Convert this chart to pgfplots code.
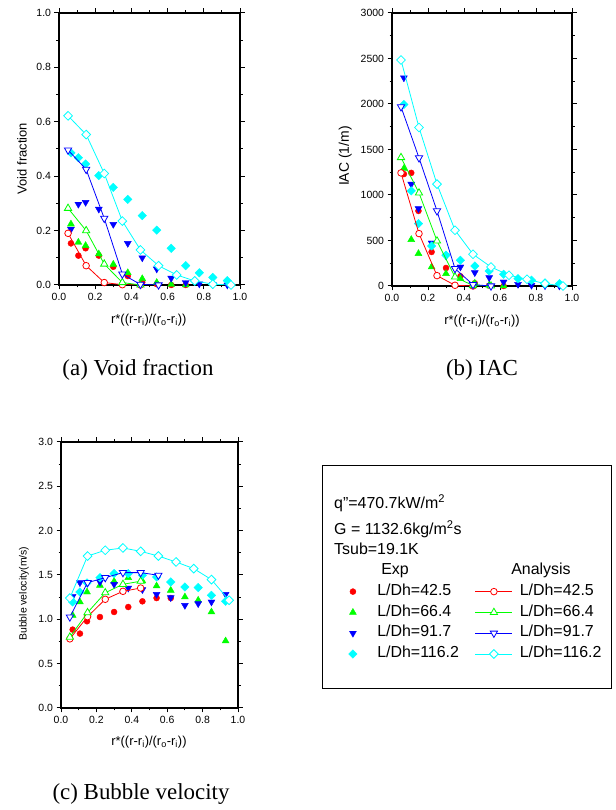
\documentclass[border=0pt]{standalone}
\usepackage{fontspec}
\setmainfont{Liberation Sans}
\newfontfamily\capfont{Liberation Serif}
\usepackage{pgfplots}
\pgfplotsset{compat=1.18}

\definecolor{cRed}{RGB}{255,0,0}
\definecolor{cGreen}{RGB}{0,255,0}
\definecolor{cBlue}{RGB}{0,0,255}
\definecolor{cCyan}{RGB}{0,255,255}

\pgfplotsset{
  panel/.style={
    scale only axis,
    xmin=0, xmax=1, xtick={0,0.2,0.4,0.6,0.8,1},
    minor x tick num=1, minor y tick num=1,
    tick align=outside, major tick length=4.5bp, minor tick length=2.5bp,
    axis line style={line width=1.3bp},
    every tick/.style={black, line width=1bp},
    tick label style={font=\fontsize{10.5}{12}\selectfont},
    /pgf/number format/assume math mode=true,
    /pgf/number format/1000 sep={},
    xticklabel style={/pgf/number format/.cd, fixed, fixed zerofill, precision=1},
    xlabel={r*((r-r\textsubscript{i})/(r\textsubscript{o}-r\textsubscript{i}))},
    xlabel style={font=\fontsize{13}{15}\selectfont, anchor=center},
    ylabel style={anchor=center},
    clip mode=individual,
  },
  e42/.style={only marks, color=cRed, mark=*, mark size=3bp},
  e66/.style={only marks, color=cGreen, mark=triangle*, mark size=4bp},
  e91/.style={only marks, color=cBlue, mark=triangle*, mark size=4bp, mark options={rotate=180}},
  e116/.style={only marks, color=cCyan, mark=square*, mark size=3bp, mark options={rotate=45}},
  a42/.style={color=cRed, line width=0.8bp, mark=*, mark size=3.3bp, mark options={fill=white}},
  a66/.style={color=cGreen, line width=0.8bp, mark=triangle*, mark size=4.2bp, mark options={fill=white}},
  a91/.style={color=cBlue, line width=0.8bp, mark=triangle*, mark size=4.2bp, mark options={rotate=180, fill=white}},
  a116/.style={color=cCyan, line width=0.8bp, mark=square*, mark size=3.1bp, mark options={rotate=45, fill=white}},
  legexp/.style={legend image code/.code={\path (0bp,0bp) (17bp,0bp); \draw[##1] plot coordinates {(8.5bp,0bp)};}},
  legana/.style={legend image code/.code={\path (0bp,0bp) (37bp,0bp); \draw[mark repeat=2, mark phase=2, ##1] plot coordinates {(0bp,0bp) (18.5bp,0bp) (37bp,0bp)};}},
}

\begin{document}
\begin{tikzpicture}
\useasboundingbox (0,0) rectangle (616bp,810bp);

% (a) void fraction
\begin{axis}[panel, at={(59bp,525bp)}, anchor=south west,
  width=181bp, height=272bp,
  ymin=0, ymax=1, ytick={0,0.2,0.4,0.6,0.8,1},
  yticklabel style={/pgf/number format/.cd, fixed, fixed zerofill, precision=1},
  ylabel={Void fraction},
  ylabel style={font=\fontsize{13}{15}\selectfont, at={(axis description cs:-0.204,0.465)}},
  xlabel style={at={(axis description cs:0.496,-0.129)}}]
\addplot[e42] coordinates {(0.066,0.153)(0.107,0.108)(0.147,0.135)(0.22,0.108)(0.30,0.067)(0.38,0.033)(0.46,0.01)(0.54,0.003)(0.62,0)(0.70,0)};
\addplot[e66] coordinates {(0.066,0.224)(0.107,0.157)(0.147,0.145)(0.22,0.114)(0.30,0.076)(0.38,0.045)(0.46,0.023)(0.54,0.009)(0.62,0.002)(0.70,0)};
\addplot[e91] coordinates {(0.066,0.205)(0.107,0.297)(0.147,0.304)(0.22,0.279)(0.30,0.223)(0.38,0.153)(0.46,0.10)(0.54,0.059)(0.62,0.025)(0.70,0.009)(0.775,0.004)(0.85,0.002)(0.93,0)};
\addplot[e116] coordinates {(0.066,0.486)(0.107,0.468)(0.147,0.445)(0.22,0.402)(0.30,0.359)(0.38,0.315)(0.46,0.255)(0.54,0.202)(0.62,0.135)(0.70,0.071)(0.775,0.045)(0.85,0.028)(0.93,0.016)};
\addplot[a42] coordinates {(0.05,0.19)(0.15,0.071)(0.25,0.009)(0.35,0.001)(0.45,0)};
\addplot[a66] coordinates {(0.05,0.282)(0.15,0.20)(0.25,0.077)(0.35,0.009)(0.45,0)};
\addplot[a91] coordinates {(0.05,0.496)(0.15,0.425)(0.25,0.245)(0.35,0.04)(0.45,0.002)(0.55,0)};
\addplot[a116] coordinates {(0.05,0.622)(0.15,0.553)(0.25,0.41)(0.35,0.235)(0.45,0.129)(0.55,0.071)(0.65,0.037)(0.75,0.015)(0.85,0.003)(0.95,0)};
\end{axis}

% (b) IAC
\begin{axis}[panel, at={(392bp,524bp)}, anchor=south west,
  width=180bp, height=273bp,
  ymin=0, ymax=3000, ytick={0,500,1000,1500,2000,2500,3000}, scaled y ticks=false,
  ylabel={IAC (1/m)},
  ylabel style={font=\fontsize{14}{16}\selectfont, at={(axis description cs:-0.26,0.476)}},
  xlabel style={at={(axis description cs:0.5,-0.128)}}]
\addplot[e42] coordinates {(0.066,1230)(0.107,1243)(0.147,825)(0.22,374)(0.30,198)(0.38,107)(0.46,30)(0.54,5)(0.62,0)};
\addplot[e66] coordinates {(0.066,1291)(0.107,510)(0.147,356)(0.22,209)(0.30,136)(0.38,81)(0.46,30)(0.54,10)(0.62,0)};
\addplot[e91] coordinates {(0.066,2288)(0.107,1119)(0.147,851)(0.22,473)(0.30,330)(0.38,209)(0.46,147)(0.54,92)(0.62,44)(0.70,19)(0.775,8)(0.85,3)(0.93,0)};
\addplot[e116] coordinates {(0.066,1995)(0.107,1045)(0.147,686)(0.22,440)(0.30,338)(0.38,283)(0.46,220)(0.54,165)(0.62,129)(0.70,81)(0.775,63)(0.85,33)(0.93,26)};
\addplot[a42] coordinates {(0.05,1243)(0.15,576)(0.25,114)(0.35,8)(0.45,0)};
\addplot[a66] coordinates {(0.05,1412)(0.15,1023)(0.25,495)(0.35,99)(0.45,5)(0.55,0)};
\addplot[a91] coordinates {(0.05,1969)(0.15,1408)(0.25,825)(0.35,191)(0.45,15)(0.55,0)};
\addplot[a116] coordinates {(0.05,2483)(0.15,1742)(0.25,1119)(0.35,613)(0.45,349)(0.55,209)(0.65,118)(0.75,74)(0.85,26)(0.95,0)};
\end{axis}

% (c) bubble velocity
\begin{axis}[panel, at={(61bp,102bp)}, anchor=south west,
  width=177bp, height=266bp,
  ymin=0, ymax=3, ytick={0,0.5,1,1.5,2,2.5,3},
  yticklabel style={/pgf/number format/.cd, fixed, fixed zerofill, precision=1},
  ylabel={Bubble velocity(m/s)},
  ylabel style={font=\fontsize{10.5}{12}\selectfont, at={(axis description cs:-0.209,0.43)}},
  xlabel style={at={(axis description cs:0.497,-0.128)}},
  legend columns=2,
  legend style={at={(1.599,0.4774)}, anchor=north west, draw=none, fill=none,
    inner sep=0pt, font=\fontsize{16}{19}\selectfont,
    nodes={inner sep=0pt, text height=14bp, text depth=6.8bp},
    row sep=0pt,
    /tikz/column 1/.style={column sep=15.7bp},
    /tikz/column 2/.style={column sep=16bp},
    /tikz/column 3/.style={column sep=7bp}},
  legend cell align=left]
\addplot[e42, forget plot] coordinates {(0.066,0.884)(0.107,0.839)(0.147,0.978)(0.22,1.026)(0.30,1.083)(0.38,1.139)(0.46,1.203)(0.54,1.24)(0.62,1.24)};
\addplot[e66, forget plot] coordinates {(0.066,1.045)(0.107,1.196)(0.147,1.308)(0.22,1.383)(0.30,1.428)(0.38,1.47)(0.46,1.432)(0.54,1.376)(0.62,1.327)(0.70,1.252)(0.775,1.215)(0.85,1.083)(0.93,0.756)};
\addplot[e91, forget plot] coordinates {(0.066,1.26)(0.107,1.414)(0.147,1.414)(0.22,1.421)(0.30,1.395)(0.38,1.353)(0.46,1.335)(0.54,1.282)(0.62,1.245)(0.70,1.158)(0.775,1.177)(0.85,1.196)(0.93,1.282)};
\addplot[e116, forget plot] coordinates {(0.066,1.196)(0.107,1.308)(0.147,1.41)(0.22,1.47)(0.30,1.516)(0.38,1.516)(0.46,1.497)(0.54,1.478)(0.62,1.421)(0.70,1.365)(0.775,1.358)(0.85,1.271)(0.93,1.203)};
\addplot[a42, forget plot] coordinates {(0.05,0.78)(0.15,1.03)(0.25,1.226)(0.35,1.316)(0.45,1.353)};
\addplot[a66, forget plot] coordinates {(0.05,0.80)(0.15,1.076)(0.25,1.30)(0.35,1.395)(0.45,1.43)};
\addplot[a91, forget plot] coordinates {(0.05,1.026)(0.15,1.414)(0.25,1.47)(0.35,1.527)(0.45,1.527)(0.55,1.497)};
\addplot[a116, forget plot] coordinates {(0.05,1.24)(0.15,1.714)(0.25,1.779)(0.35,1.805)(0.45,1.767)(0.55,1.714)(0.65,1.647)(0.75,1.572)(0.85,1.448)(0.95,1.215)};
\addlegendimage{e42, legexp}\addlegendentry{L/Dh=42.5}
\addlegendimage{a42, legana}\addlegendentry{L/Dh=42.5}
\addlegendimage{e66, legexp}\addlegendentry{L/Dh=66.4}
\addlegendimage{a66, legana}\addlegendentry{L/Dh=66.4}
\addlegendimage{e91, legexp}\addlegendentry{L/Dh=91.7}
\addlegendimage{a91, legana}\addlegendentry{L/Dh=91.7}
\addlegendimage{e116, legexp}\addlegendentry{L/Dh=116.2}
\addlegendimage{a116, legana}\addlegendentry{L/Dh=116.2}
\end{axis}

% legend box and texts
\draw[line width=0.8bp] (322bp,122bp) rectangle (611bp,345bp);
\begin{scope}[every node/.style={inner sep=0pt, font=\fontsize{16}{19}\selectfont}]
\node[anchor=base west] at (334bp,301bp) {q"=470.7kW/m\textsuperscript{2}};
\node[anchor=base west] at (334bp,275bp) {G = 1132.6kg/m\textsuperscript{2}s};
\node[anchor=base west] at (334bp,255bp) {Tsub=19.1K};
\node[anchor=base] at (395bp,235bp) {Exp};
\node[anchor=base] at (541bp,235bp) {Analysis};
\end{scope}

% captions
\begin{scope}[every node/.style={inner sep=0pt, font=\capfont\fontsize{23}{26}\selectfont}]
\node[anchor=base] at (138bp,434bp) {(a) Void fraction};
\node[anchor=base] at (482bp,434bp) {(b) IAC};
\node[anchor=base] at (141bp,11bp) {(c) Bubble velocity};
\end{scope}
\end{tikzpicture}
\end{document}
